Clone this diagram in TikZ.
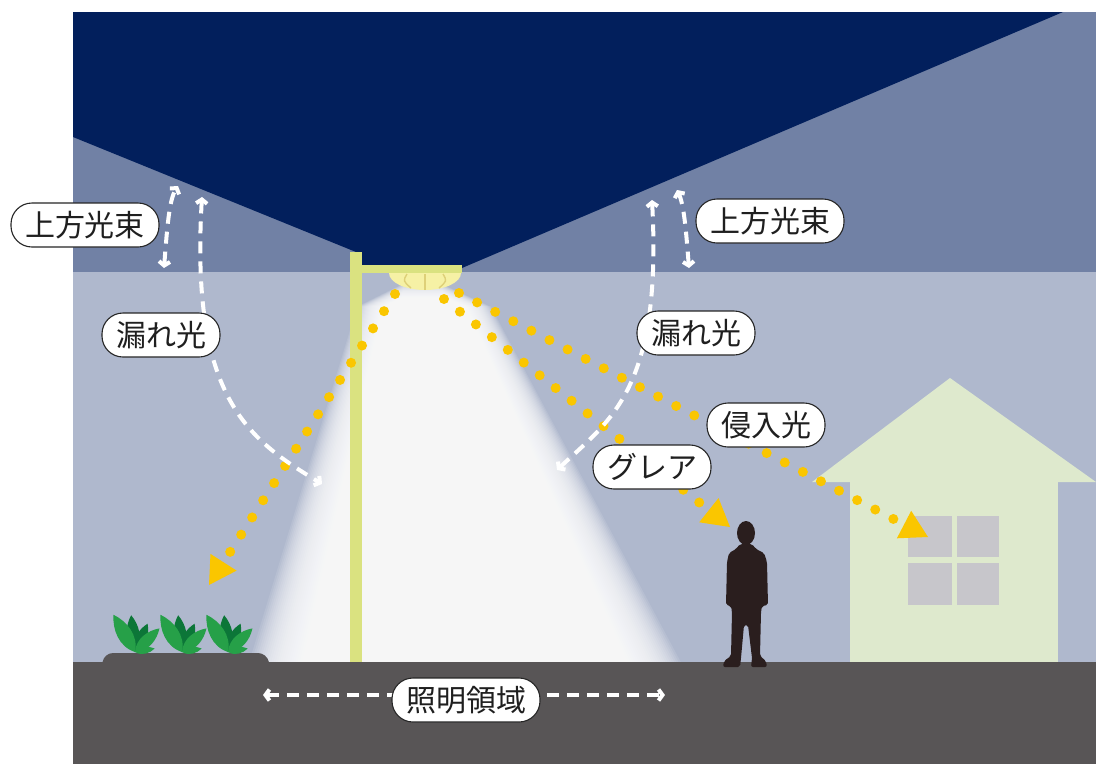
\documentclass[tikz,border=0pt]{standalone}
\usepackage{fontspec}
\newfontfamily\jp{Noto Sans CJK JP}
\usetikzlibrary{arrows.meta}

\definecolor{sky}{RGB}{2,31,92}
\definecolor{band}{RGB}{113,129,165}
\definecolor{haze}{RGB}{175,184,205}
\definecolor{ground}{RGB}{88,85,86}
\definecolor{polecol}{RGB}{218,226,128}
\definecolor{lampglass}{RGB}{246,241,165}
\definecolor{lamprib}{RGB}{222,208,120}
\definecolor{beam}{RGB}{250,198,0}
\definecolor{housewall}{RGB}{222,233,205}
\definecolor{pane}{RGB}{199,198,203}
\definecolor{leafA}{RGB}{38,160,72}
\definecolor{leafB}{RGB}{12,118,56}
\definecolor{person}{RGB}{42,30,30}

\tikzset{
  ydots/.style={beam, line width=10pt, line cap=round,
    dash pattern=on 0pt off 20.4pt,
    -{Triangle[length=27pt,width=31pt,line width=0pt]}},
  wdash/.style={white, line width=4pt, dash pattern=on 12pt off 8pt,
    {Straight Barb[length=4pt,width=11pt]}-{Straight Barb[length=4pt,width=11pt]}},
  lbl/.style={draw=black!85, line width=1.1pt, fill=white, rounded corners=21pt,
    minimum height=44pt, inner xsep=14pt, inner ysep=0pt,
    font=\jp\fontsize{30}{30}\selectfont, text=black!88},
  leaf/.pic={\fill[#1] (0,0) .. controls (-0.27,-0.3) and (-0.19,-0.72) .. (0,-1)
      .. controls (0.19,-0.72) and (0.27,-0.3) .. (0,0);},
  sprout/.pic={
    \pic[rotate=6,scale=37] {leaf=leafB};
    \pic[rotate=-24,scale=31] {leaf=leafB};
    \pic[rotate=30,scale=43] {leaf=leafA};
    \pic[rotate=-46,scale=34] {leaf=leafA};
    \pic[rotate=-80,scale=20] {leaf=leafA};
  }
}

\begin{document}
\begin{tikzpicture}[x=1pt,y=-1pt]
\useasboundingbox (0,0) rectangle (1096,764);
\fill[white] (0,0) rectangle (1096,764);

% night backdrop
\fill[band] (73,12) rectangle (1096,272);
\fill[haze] (73,272) rectangle (1096,662);
\fill[sky] (73,12) -- (1063,12) -- (462,268) -- (356,268) -- (356,252) -- (73,137) -- cycle;

% soft cone of light under the lamp, built from thin translucent layers
\foreach \k in {0,...,39} {
  \fill[white, fill opacity=0.1]
    (404-1.2*\k,283+0.6*\k) -- (440+1.3*\k,283+0.6*\k) -- (595+2.2*\k,662) -- (335-2.2*\k,662) -- cycle;
}

% ground and flower bed
\fill[ground] (73,662) rectangle (1096,764);
\fill[ground, rounded corners=9pt] (101,672) -- (104,653) -- (267,653) -- (271,672) -- cycle;
\foreach \px in {135,182,228} { \pic at (\px,652) {sprout}; }

% house
\fill[housewall] (812,482) -- (950,378) -- (1096,482) -- cycle;
\fill[housewall] (850,480) rectangle (1058,662);
\fill[pane] (908,516) rectangle (952,557);
\fill[pane] (957,516) rectangle (999,557);
\fill[pane] (908,563) rectangle (952,605);
\fill[pane] (957,563) rectangle (999,605);

% pedestrian
\fill[person] (746,533) ellipse [x radius=9, y radius=12];
\fill[person, rounded corners=2pt] (740,544) -- (736,549) -- (729,553) -- (727,562) -- (726,605)
  -- (731,606) -- (732,612) -- (731,656) -- (724,661) -- (723,667) -- (740,667) -- (741,658)
  -- (744,625) -- (748,625) -- (752,658) -- (751,667) -- (767,667) -- (766,661) -- (760,656)
  -- (761,612) -- (762,606) -- (768,605) -- (767,562) -- (764,553) -- (756,549) -- (752,544) -- cycle;

% street lamp
\fill[polecol] (350,252) rectangle (362,662);
\fill[polecol] (350,265) rectangle (462,273);
\fill[lampglass] (389,273) arc[start angle=180, end angle=0, x radius=36, y radius=17] -- cycle;
\draw[lamprib, line width=1.4pt] (407,274) .. controls (403,281) .. (411,288);
\draw[lamprib, line width=1.4pt] (425,274) -- (425,290);
\draw[lamprib, line width=1.4pt] (443,274) .. controls (447,281) .. (439,288);

% beam end points
\coordinate (lampA) at (395,294);
\coordinate (lampB) at (444,299);
\coordinate (lampC) at (459,293);
\coordinate (bedT) at (209,585);
\coordinate (eyeT) at (730,527);
\coordinate (winT) at (928,537);

\draw[ydots] (lampA) -- (bedT);
\draw[ydots] (lampB) -- (eyeT);
\draw[ydots] (lampC) -- (winT);

% stray and upward light paths
\coordinate (upL1a) at (164,268);
\coordinate (upL1b) at (178,186);
\coordinate (upL2a) at (202,197);
\coordinate (leakLend) at (322,484);
\coordinate (upR1a) at (689,268);
\coordinate (upR1b) at (677,190);
\coordinate (upR2a) at (652,200);
\coordinate (leakRend) at (557,470);
\coordinate (areaL) at (263,695);
\coordinate (areaR) at (665,695);

\draw[wdash] (upL1a) .. controls (167,230) and (169,200) .. (upL1b);
\draw[wdash] (upL2a) .. controls (190,400) and (250,440) .. (leakLend);
\draw[wdash] (upR1a) .. controls (686,230) and (684,205) .. (upR1b);
\draw[wdash] (upR2a) .. controls (662,390) and (610,420) .. (leakRend);
\draw[wdash] (areaL) -- (areaR);

% labels
\node[lbl] (upLabL) at (85,225) {上方光束};
\node[lbl] (upLabR) at (770,221) {上方光束};
\node[lbl] (leakLabL) at (161,335) {漏れ光};
\node[lbl] (leakLabR) at (696,333) {漏れ光};
\node[lbl] (intrLab) at (766,425) {侵入光};
\node[lbl] (glareLab) at (652,467) {グレア};
\node[lbl] (areaLab) at (466,700) {照明領域};
\end{tikzpicture}
\end{document}
